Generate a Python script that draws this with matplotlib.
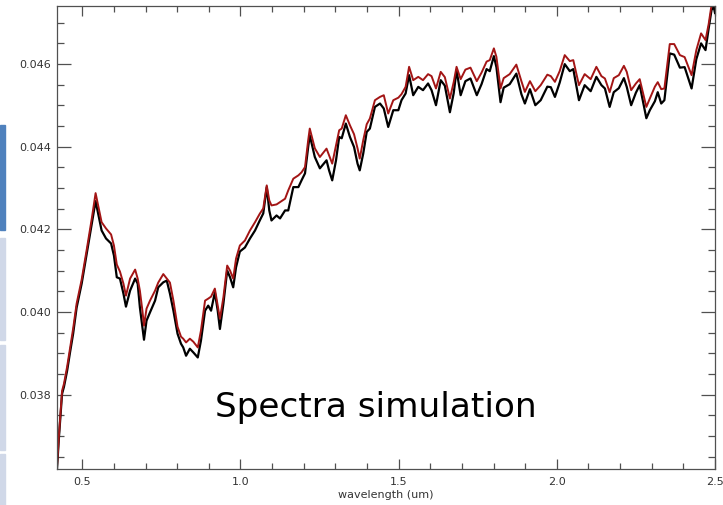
import matplotlib
matplotlib.use("Agg")
import matplotlib.pyplot as plt
from matplotlib.patches import Rectangle
from matplotlib.ticker import MultipleLocator

# wavelength grid (um) shared by both spectra
wavelength = [
    0.420, 0.426, 0.436, 0.442, 0.452, 0.461, 0.471, 0.482, 0.498, 0.514,
    0.530, 0.542, 0.561, 0.575, 0.591, 0.600, 0.609, 0.619, 0.630, 0.638,
    0.651, 0.667, 0.675, 0.682, 0.690, 0.695, 0.703, 0.714, 0.730, 0.740,
    0.756, 0.767, 0.777, 0.788, 0.801, 0.812, 0.819, 0.828, 0.840, 0.851,
    0.865, 0.875, 0.888, 0.898, 0.907, 0.919, 0.928, 0.935, 0.946, 0.958,
    0.967, 0.977, 0.986, 0.998, 1.014, 1.030, 1.046, 1.061, 1.072, 1.083,
    1.091, 1.098, 1.114, 1.125, 1.141, 1.151, 1.167, 1.183, 1.193, 1.204,
    1.214, 1.219, 1.235, 1.251, 1.272, 1.280, 1.290, 1.302, 1.312, 1.320,
    1.333, 1.346, 1.359, 1.370, 1.377, 1.388, 1.399, 1.409, 1.425, 1.441,
    1.453, 1.467, 1.483, 1.499, 1.509, 1.522, 1.533, 1.546, 1.562, 1.577,
    1.593, 1.604, 1.618, 1.633, 1.646, 1.662, 1.674, 1.683, 1.696, 1.711,
    1.727, 1.747, 1.762, 1.778, 1.788, 1.801, 1.809, 1.822, 1.832, 1.851,
    1.872, 1.888, 1.899, 1.915, 1.932, 1.949, 1.970, 1.981, 1.994, 2.009,
    2.025, 2.041, 2.052, 2.070, 2.088, 2.107, 2.125, 2.141, 2.152, 2.167,
    2.180, 2.196, 2.212, 2.221, 2.235, 2.250, 2.262, 2.283, 2.294, 2.310,
    2.319, 2.330, 2.340, 2.357, 2.371, 2.389, 2.404, 2.426, 2.441, 2.456,
    2.470, 2.480, 2.489, 2.496, 2.500,
]

# black spectrum
spectrum_black = [
    0.036200, 0.036952, 0.038018, 0.038188, 0.038576, 0.039012, 0.039473, 0.040103, 0.040685, 0.041412,
    0.042139, 0.042680, 0.041970, 0.041776, 0.041655, 0.041364, 0.040838, 0.040806, 0.040443, 0.040127,
    0.040515, 0.040806, 0.040685, 0.040110, 0.039626, 0.039327, 0.039788, 0.039989, 0.040273, 0.040595,
    0.040716, 0.040758, 0.040443, 0.040030, 0.039473, 0.039230, 0.039141, 0.038940, 0.039109, 0.039020,
    0.038898, 0.039303, 0.040030, 0.040152, 0.040030, 0.040474, 0.040030, 0.039587, 0.040200, 0.041000,
    0.040838, 0.040595, 0.041080, 0.041461, 0.041558, 0.041776, 0.041970, 0.042212, 0.042382, 0.043019,
    0.042455, 0.042212, 0.042333, 0.042261, 0.042455, 0.042455, 0.043019, 0.043019, 0.043182, 0.043352,
    0.043989, 0.044273, 0.043747, 0.043473, 0.043667, 0.043424, 0.043182, 0.043667, 0.044232, 0.044200,
    0.044556, 0.044232, 0.043989, 0.043587, 0.043424, 0.043829, 0.044353, 0.044435, 0.044959, 0.045041,
    0.044920, 0.044474, 0.044879, 0.044879, 0.045121, 0.045284, 0.045727, 0.045242, 0.045444, 0.045364,
    0.045526, 0.045364, 0.045000, 0.045606, 0.045473, 0.044830, 0.045291, 0.045848, 0.045242, 0.045582,
    0.045647, 0.045242, 0.045509, 0.045873, 0.045824, 0.046188, 0.045921, 0.045073, 0.045424, 0.045509,
    0.045764, 0.045267, 0.045041, 0.045388, 0.045000, 0.045121, 0.045449, 0.045436, 0.045201, 0.045545,
    0.045994, 0.045824, 0.045873, 0.045121, 0.045485, 0.045339, 0.045686, 0.045485, 0.045405, 0.044959,
    0.045315, 0.045412, 0.045655, 0.045444, 0.045000, 0.045303, 0.045485, 0.044685, 0.044879, 0.045097,
    0.045315, 0.045041, 0.045121, 0.046253, 0.046224, 0.045909, 0.045921, 0.045405, 0.046115, 0.046496,
    0.046333, 0.046859, 0.047303, 0.047376, 0.047230,
]

# red spectrum
spectrum_red = [
    0.036249, 0.037000, 0.038091, 0.038261, 0.038673, 0.039109, 0.039594, 0.040200, 0.040782, 0.041509,
    0.042261, 0.042874, 0.042171, 0.042018, 0.041873, 0.041606, 0.041146, 0.040976, 0.040685, 0.040394,
    0.040806, 0.041024, 0.040806, 0.040515, 0.040030, 0.039667, 0.040079, 0.040273, 0.040515, 0.040709,
    0.040915, 0.040806, 0.040709, 0.040273, 0.039643, 0.039400, 0.039352, 0.039262, 0.039352, 0.039279,
    0.039141, 0.039546, 0.040273, 0.040321, 0.040370, 0.040564, 0.040152, 0.039836, 0.040353, 0.041121,
    0.041000, 0.040806, 0.041291, 0.041606, 0.041727, 0.041970, 0.042171, 0.042375, 0.042503, 0.043061,
    0.042697, 0.042576, 0.042600, 0.042656, 0.042738, 0.042939, 0.043223, 0.043303, 0.043376, 0.043504,
    0.044152, 0.044435, 0.043958, 0.043747, 0.043950, 0.043788, 0.043587, 0.044030, 0.044394, 0.044435,
    0.044758, 0.044515, 0.044297, 0.043958, 0.043708, 0.044152, 0.044539, 0.044678, 0.045121, 0.045201,
    0.045242, 0.044799, 0.045121, 0.045182, 0.045267, 0.045444, 0.045929, 0.045606, 0.045686, 0.045606,
    0.045752, 0.045703, 0.045405, 0.045807, 0.045679, 0.045162, 0.045558, 0.045929, 0.045630, 0.045861,
    0.045909, 0.045582, 0.045788, 0.046055, 0.046091, 0.046375, 0.046171, 0.045405, 0.045655, 0.045752,
    0.045982, 0.045582, 0.045322, 0.045582, 0.045339, 0.045485, 0.045739, 0.045703, 0.045565, 0.045824,
    0.046212, 0.046067, 0.046091, 0.045485, 0.045752, 0.045630, 0.045929, 0.045703, 0.045647, 0.045315,
    0.045655, 0.045727, 0.045953, 0.045807, 0.045364, 0.045526, 0.045630, 0.044959, 0.045162, 0.045449,
    0.045558, 0.045388, 0.045405, 0.046479, 0.046479, 0.046212, 0.046164, 0.045727, 0.046333, 0.046738,
    0.046576, 0.046964, 0.047424, 0.047497, 0.047400,
]

x_ticks = [0.5, 1.0, 1.5, 2.0, 2.5]
y_ticks = [0.038, 0.040, 0.042, 0.044, 0.046]

AXIS_GREY = "#505050"

fig = plt.figure(figsize=(7.23, 5.05), dpi=100)
ax = fig.add_axes([57 / 723, 1 - 469 / 505, 658 / 723, 463 / 505])

# slide remnants along the left edge
strips = [(125, 230, "#4f81bd"), (238, 340, "#d0d8e8"), (345, 450, "#d0d8e8"), (454, 505, "#d0d8e8")]
for top, bottom, color in strips:
    fig.patches.append(
        Rectangle((0, 1 - bottom / 505), 5 / 723, (bottom - top) / 505,
                  transform=fig.transFigure, color=color, zorder=0)
    )

ax.plot(wavelength, spectrum_black, color="black", lw=1.6, solid_joinstyle="round")
ax.plot(wavelength, spectrum_red, color="#a31515", lw=1.4, solid_joinstyle="round")

ax.set_xlim(0.42, 2.5)
ax.set_ylim(0.0362, 0.0474)
ax.set_xticks(x_ticks)
ax.set_xticklabels([f"{v:.1f}" for v in x_ticks])
ax.set_yticks(y_ticks)
ax.set_yticklabels([f"{v:.3f}" for v in y_ticks])
ax.xaxis.set_minor_locator(MultipleLocator(0.1))
ax.yaxis.set_minor_locator(MultipleLocator(0.0005))

ax.tick_params(axis="both", which="both", direction="in", top=True, right=True,
               colors=AXIS_GREY, labelcolor="#333333", labelsize=8, width=0.9)
ax.tick_params(axis="x", which="major", length=7, pad=6)
ax.tick_params(axis="x", which="minor", length=4)
ax.tick_params(axis="y", which="major", length=10, pad=4)
ax.tick_params(axis="y", which="minor", length=5)
for spine in ax.spines.values():
    spine.set_color(AXIS_GREY)
    spine.set_linewidth(0.9)

ax.set_xlabel("wavelength (um)", fontsize=8, color="#333333", labelpad=2)

ax.text(0.42 + (376 - 57) / 316.5, 0.0380 - (408 - 395) / 41250, "Spectra simulation",
        fontsize=24.7, color="black", ha="center", va="center", family="DejaVu Sans")

fig.savefig("out.png", dpi=100)
